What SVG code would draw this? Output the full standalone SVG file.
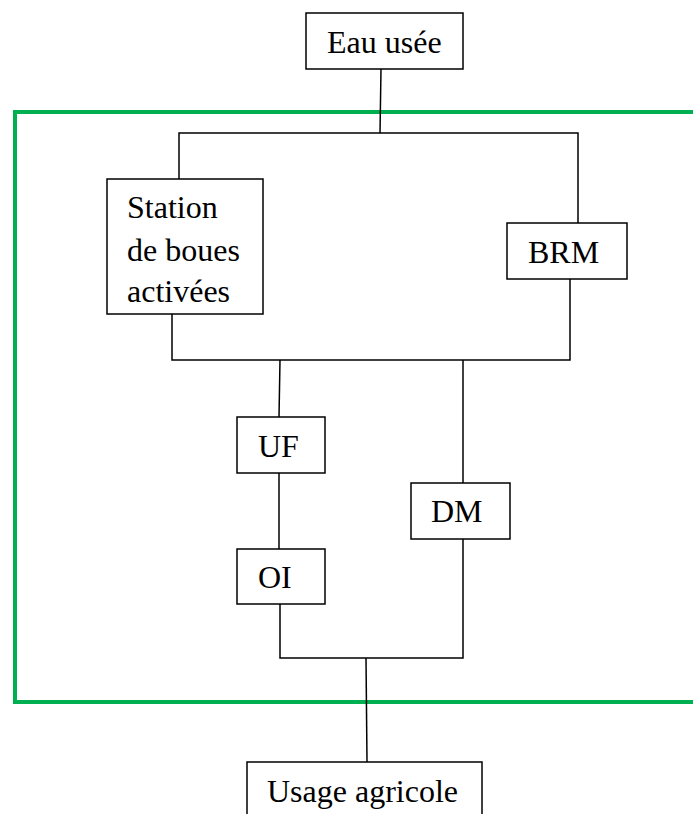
<svg xmlns="http://www.w3.org/2000/svg" width="693" height="814" viewBox="0 0 693 814">
<style>
.box{fill:#fff;stroke:#000;stroke-width:1.5}
.ln{fill:none;stroke:#000;stroke-width:1.5}
.t{font-family:'Liberation Serif','Times New Roman',serif;font-size:32px;fill:#000}
</style>
<rect width="693" height="814" fill="#fff"/>
<rect id="frame" x="15" y="112" width="700" height="590" fill="none" stroke="#00B050" stroke-width="4"/>
<g id="connectors">
<path class="ln" d="M381,69 L380,133"/>
<path class="ln" d="M179,179 L179,133 L578,133 L578,223"/>
<path class="ln" d="M172,314 L172,360 L570,360 L570,279"/>
<path class="ln" d="M280,360 L279,417"/>
<path class="ln" d="M279,473 L279,549"/>
<path class="ln" d="M463,360 L463,483"/>
<path class="ln" d="M280,604 L280,658 L463,658 L463,539"/>
<path class="ln" d="M366,658 L367,762"/>
</g>
<g id="eau"><rect class="box" x="306" y="13" width="157" height="56"/><text class="t" x="327" y="53">Eau usée</text></g>
<g id="station"><rect class="box" x="107" y="179" width="156" height="135"/>
<text class="t" x="127" y="218">Station</text><text class="t" x="127" y="261">de boues</text><text class="t" x="127" y="302">activées</text></g>
<g id="brm"><rect class="box" x="507" y="223" width="120" height="56"/><text class="t" x="528" y="263">BRM</text></g>
<g id="uf"><rect class="box" x="237" y="417" width="88" height="56"/><text class="t" x="258" y="457">UF</text></g>
<g id="oi"><rect class="box" x="237" y="549" width="88" height="55"/><text class="t" x="258" y="588">OI</text></g>
<g id="dm"><rect class="box" x="411" y="483" width="99" height="56"/><text class="t" x="431" y="522">DM</text></g>
<g id="usage"><rect class="box" x="247" y="762" width="235" height="70"/><text class="t" x="267" y="802">Usage agricole</text></g>
</svg>
